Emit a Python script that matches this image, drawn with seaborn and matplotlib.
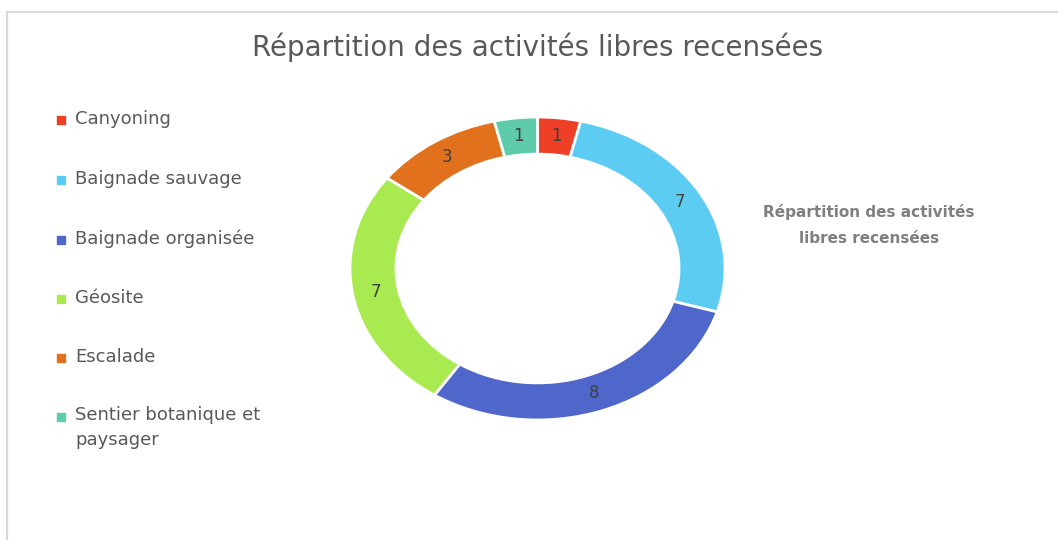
import matplotlib
matplotlib.use("Agg")
import matplotlib.pyplot as plt
import seaborn as sns
from matplotlib.lines import Line2D

categories = ["Canyoning", "Baignade sauvage", "Baignade organisée", "Géosite",
              "Escalade", "Sentier botanique et\npaysager"]
values = [1, 7, 8, 7, 3, 1]
colors = ["#EE4027", "#5DCCF3", "#4F67CB", "#A9EA50", "#E2711D", "#5ECBAA"]
title = "Répartition des activités libres recensées"
side_text = "Répartition des activités\nlibres recensées"

sns.set_theme(style="white")
plt.rcParams["font.family"] = ["DejaVu Sans"]

W, H = 1058, 540
fig = plt.figure(figsize=(W / 100, H / 100), dpi=100)
fig.patch.set_facecolor("white")

def fx(px):
    return px / W

def fy(py):
    return 1 - py / H

# frame border (top and left visible)
fig.add_artist(Line2D([fx(6.5), fx(6.5)], [fy(11.5), fy(560)], color="#d9d9d9", lw=1.6,
                      transform=fig.transFigure))
fig.add_artist(Line2D([fx(6.5), fx(1070)], [fy(11.5), fy(11.5)], color="#d9d9d9", lw=1.6,
                      transform=fig.transFigure))

# donut
ax = fig.add_axes([fx(350), fy(420), fx(375), 303 / H])
ring = 0.245
wedges, texts, autotexts = ax.pie(
    values, colors=colors, startangle=90, counterclock=False, radius=1,
    wedgeprops=dict(width=ring, edgecolor="white", linewidth=2),
    autopct=lambda p: f"{round(p * sum(values) / 100)}", pctdistance=1 - ring / 2,
    textprops=dict(color="#404040", fontsize=12))
ax.set_aspect("auto")
ax.set_xlim(-1.0, 1.0)
ax.set_ylim(-1.0, 1.0)
ax.axis("off")

# title
fig.text(fx(538), fy(47), title, ha="center", va="center", fontsize=20, color="#595959")

# side text
fig.text(fx(869), fy(225), side_text, ha="center", va="center", fontsize=11,
         fontweight="bold", color="#7f7f7f", linespacing=1.85)

# legend
ys = [119, 179, 239, 298, 357, 416]
for cat, col, y in zip(categories, colors, ys):
    fig.add_artist(Line2D([fx(61)], [fy(y + 1)], marker="s", markersize=6, color=col,
                          linestyle="none", transform=fig.transFigure))
    if "\n" in cat:
        fig.text(fx(75), fy(y - 9.5), cat, ha="left", va="top", fontsize=13,
                 color="#595959", linespacing=1.45)
    else:
        fig.text(fx(75), fy(y), cat, ha="left", va="center", fontsize=13,
                 color="#595959")

fig.savefig("out.png", dpi=100, facecolor="white")
